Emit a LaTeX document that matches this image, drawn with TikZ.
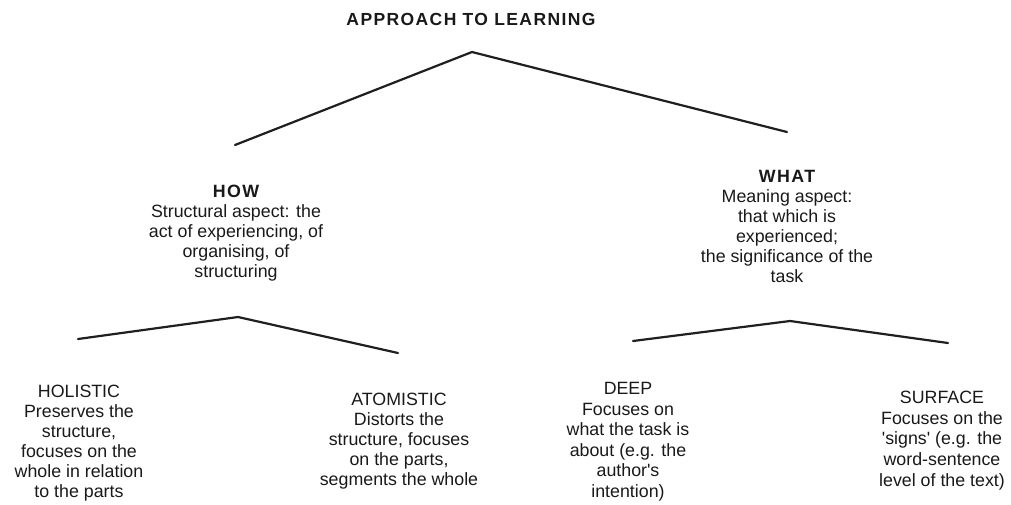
\documentclass[tikz,border=0pt]{standalone}
\usepackage{fontspec}
\setmainfont{Liberation Sans}
\newfontfamily\headfont[LetterSpace=8]{Liberation Sans}
\begin{document}
\begin{tikzpicture}[x=1pt,y=-1pt,
  fork/.style={draw=black!88, line width=2.2pt, line join=round, line cap=round},
  block/.style={align=center, inner sep=0pt, anchor=north, text=black!90,
    font={\fontsize{17.8}{20}\selectfont}},
  titlenode/.style={inner sep=0pt, anchor=north, text=black!90,
    font={\headfont\bfseries\fontsize{17.5}{20}\selectfont}}
]
\useasboundingbox (0,0) rectangle (1011,504);
% title
\node[titlenode] (title) at (471,13) {APPROACH TO LEARNING};
% top fork
\coordinate (top) at (472,52);
\coordinate (tl) at (235,145);
\coordinate (tr) at (787,132);
\draw[fork] (tl) -- (top) -- (tr);
% second level
\node[block] (how) at (236,185) {{\headfont\bfseries HOW}\\Structural aspect: the\\act of experiencing, of\\organising, of\\structuring};
\node[block] (what) at (787,170) {{\headfont\bfseries WHAT}\\Meaning aspect:\\that which is\\experienced;\\the significance of the\\task};
% lower forks
\coordinate (htop) at (238,317);
\coordinate (hl) at (78,339);
\coordinate (hr) at (398,353);
\draw[fork] (hl) -- (htop) -- (hr);
\coordinate (wtop) at (790,321);
\coordinate (wl) at (633,341);
\coordinate (wr) at (948,343);
\draw[fork] (wl) -- (wtop) -- (wr);
% leaves
\node[block] (holistic) at (79,385) {HOLISTIC\\Preserves the\\structure,\\focuses on the\\whole in relation\\to the parts};
\node[block] (atomistic) at (399,393) {ATOMISTIC\\Distorts the\\structure, focuses\\on the parts,\\segments the whole};
\node[block, font={\fontsize{17.8}{20.6}\selectfont}] (deep) at (628,382) {DEEP\\Focuses on\\what the task is\\about (e.g. the\\author\textquotesingle s\\intention)};
\node[block, font={\fontsize{17.8}{20.6}\selectfont}] (surface) at (942,391) {SURFACE\\Focuses on the\\\textquotesingle signs\textquotesingle{} (e.g. the\\word-sentence\\level of the text)};
\end{tikzpicture}
\end{document}
